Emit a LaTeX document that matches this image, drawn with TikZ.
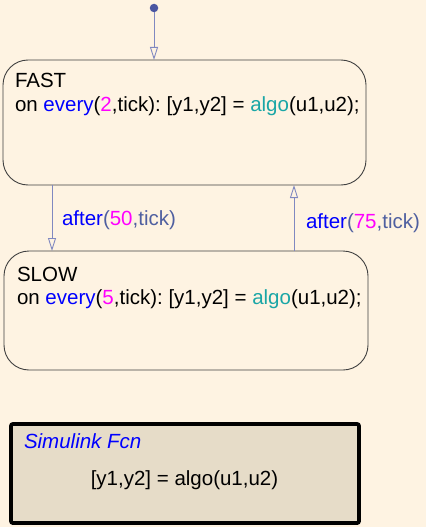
\documentclass[tikz,border=0pt]{standalone}
\usepackage{fontspec}
\setmainfont{Liberation Sans}
\usetikzlibrary{arrows.meta}
\frenchspacing
\definecolor{bgcream}{HTML}{FEF3E2}
\definecolor{stateline}{HTML}{404040}
\definecolor{transline}{HTML}{8088C0}
\definecolor{dotblue}{HTML}{4A55A0}
\definecolor{kwblue}{HTML}{0000FF}
\definecolor{nummag}{HTML}{FF00FF}
\definecolor{fnteal}{HTML}{1AA6A6}
\definecolor{lblgray}{HTML}{4F5FA0}
\definecolor{fcnfill}{HTML}{E6DCC8}
\newcommand{\kwd}[1]{\textcolor{kwblue}{#1}}
\newcommand{\numc}[1]{\textcolor{nummag}{#1}}
\newcommand{\fnc}[1]{\textcolor{fnteal}{#1}}
\newcommand{\lblc}[1]{\textcolor{lblgray}{#1}}
\begin{document}
\begin{tikzpicture}[x=1pt,y=-1pt,
  every node/.style={font=\fontsize{20.5}{23}\selectfont, inner sep=0pt, outer sep=0pt},
  state/.style={draw=stateline, line width=0.9pt, rounded corners=25pt, fill=bgcream},
  trans/.style={draw=transline, line width=0.9pt,
    -{Triangle[open, length=13pt, width=8pt, fill=bgcream]}},
  txt/.style={anchor=base west},
  fcnbox/.style={draw=black, line width=3.8pt, rounded corners=2pt, fill=fcnfill}]
  % page
  \fill[bgcream] (0,0) rectangle (426,527);
  \useasboundingbox (0,0) rectangle (426,527);

  % states
  \node[state, minimum width=363pt, minimum height=125pt] (fast) at (184.5,122.5) {};
  \node[state, minimum width=364pt, minimum height=119pt] (slow) at (186,310.5) {};

  \node[txt] (fastname) at (15,88) {FAST};
  \node[txt] (fastact) at (15,111) {on \kwd{every}(\numc{2},tick): [y1,y2] = \fnc{algo}(u1,u2);};
  \node[txt] (slowname) at (17,281) {SLOW};
  \node[txt] (slowact) at (17,304) {on \kwd{every}(\numc{5},tick): [y1,y2] = \fnc{algo}(u1,u2);};

  % default transition
  \node[circle, fill=dotblue, minimum size=8.5pt] (init) at (154,8) {};
  \draw[trans] (init) -- (init |- fast.north);

  % transitions between states
  \coordinate (down) at (52,0);
  \coordinate (up) at (294,0);
  \draw[trans] (down |- fast.south) -- (down |- slow.north);
  \draw[trans] (up |- slow.north) -- (up |- fast.south);
  \node[txt] (lbldown) at (62,225) {\kwd{after}\lblc{(}\numc{50}\lblc{,tick)}};
  \node[txt] (lblup) at (306,228) {\kwd{after}\lblc{(}\numc{75}\lblc{,tick)}};

  % Simulink function block
  \node[fcnbox, minimum width=348pt, minimum height=99pt] (fcn) at (185,473.5) {};
  \node[txt] (fcntitle) at (24,448) {\textcolor{kwblue}{\itshape Simulink Fcn}};
  \node[anchor=base] (fcnsig) at (184.5,485) {[y1,y2] = algo(u1,u2)};
\end{tikzpicture}
\end{document}
